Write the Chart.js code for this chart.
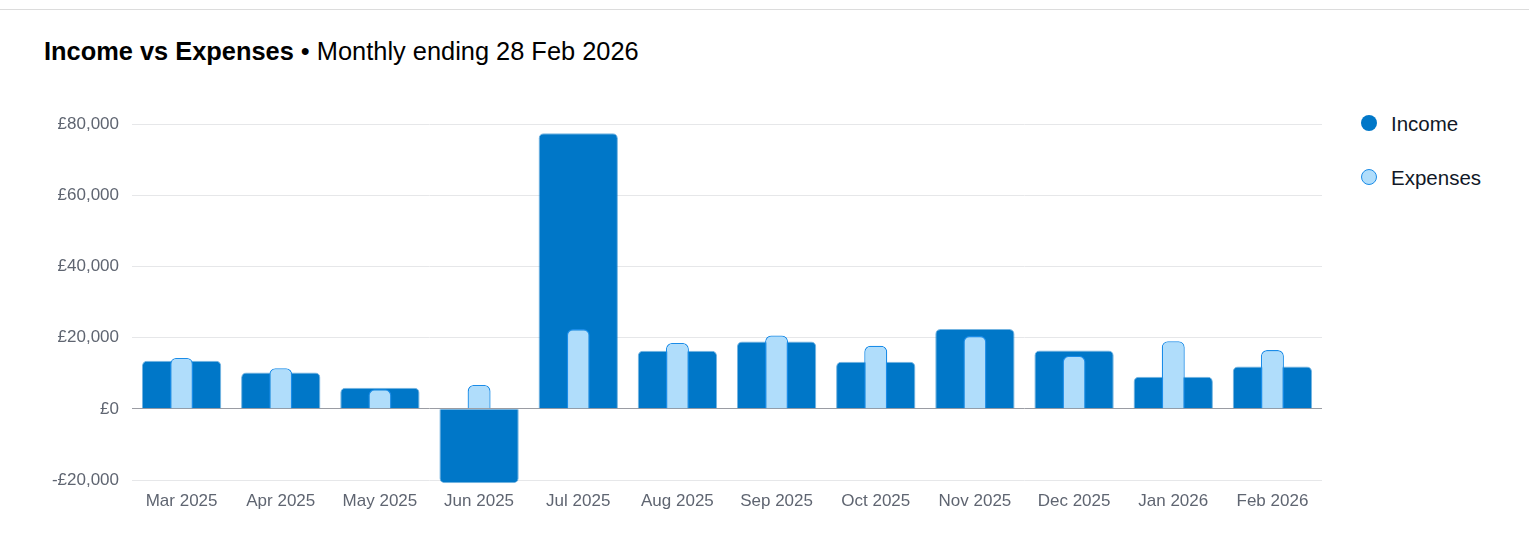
<!DOCTYPE html>
<html>
<head>
<meta charset="utf-8">
<script src="https://cdn.jsdelivr.net/npm/chart.js@4"></script>
<style>
  html, body { margin: 0; padding: 0; background: #fff; }
  body { width: 1529px; height: 557px; position: relative; overflow: hidden; font-family: "Liberation Sans", Arial, sans-serif; }
  .topline { position: absolute; left: 0; top: 9px; width: 1529px; height: 1px; background: #dcdcdc; }
  h2 { position: absolute; left: 44px; top: 37px; margin: 0; font-size: 25.4px; font-weight: normal; color: #000; white-space: nowrap; }
  h2 b { font-weight: bold; }
  #wrap { position: absolute; left: 0; top: 90px; width: 1330px; height: 431px; }
  #legend { position: absolute; left: 1361px; top: 110px; }
  #legend div { height: 27px; line-height: 27px; margin-bottom: 27px; font-size: 20.5px; color: #111827; position: relative; padding-left: 30px; }
  #legend span { position: absolute; left: 0; top: 5px; width: 16px; height: 16px; border-radius: 50%; box-sizing: border-box; }
</style>
</head>
<body>
<div class="topline"></div>
<h2><b>Income vs Expenses</b> • Monthly ending 28 Feb 2026</h2>
<div id="wrap"><canvas id="chart"></canvas></div>
<div id="legend"></div>
<script>
// data
var months = ['Mar 2025', 'Apr 2025', 'May 2025', 'Jun 2025', 'Jul 2025', 'Aug 2025',
              'Sep 2025', 'Oct 2025', 'Nov 2025', 'Dec 2025', 'Jan 2026', 'Feb 2026'];
var income = [13500, 10200, 5900, -20900, 77400, 16300, 18900, 13200, 22400, 16400, 9000, 11900];
var expenses = [14300, 11400, 5500, 6700, 22400, 18500, 20600, 17700, 20500, 14900, 19000, 16500];
var yTicks = [-20000, 0, 20000, 40000, 60000, 80000];

var incomeColor = '#0077c8';
var expenseFill = '#b0ddfb';
var expenseBorder = '#1a8ce8';

function money(v) {
    var s = '£' + Math.abs(v).toLocaleString('en-GB');
    return v < 0 ? '-' + s : s;
}

var ctx = document.getElementById('chart').getContext('2d');
var chart = new Chart(ctx, {
    type: 'bar',
    data: {
        labels: months,
        datasets: [{
            label: 'Income',
            data: income,
            backgroundColor: incomeColor,
            borderColor: 'rgba(0, 119, 200, 0.55)',
            borderWidth: 1,
            borderRadius: 5,
            borderSkipped: 'start',
            grouped: false,
            barPercentage: 1,
            categoryPercentage: 0.8,
            order: 2
        }, {
            label: 'Expenses',
            data: expenses,
            backgroundColor: expenseFill,
            borderColor: expenseBorder,
            borderWidth: 1.3,
            borderRadius: 6,
            borderSkipped: 'start',
            grouped: false,
            barPercentage: 0.29,
            categoryPercentage: 0.8,
            order: 1
        }]
    },
    options: {
        responsive: true,
        maintainAspectRatio: false,
        animation: false,
        layout: { padding: { top: 34, right: 8, bottom: 9, left: 0 } },
        plugins: {
            legend: { display: false },
            tooltip: { enabled: false }
        },
        scales: {
            x: {
                grid: { display: false },
                border: { display: false },
                ticks: { color: '#5f6571', font: { family: 'Liberation Sans', size: 17 }, padding: 0, maxRotation: 0 }
            },
            y: {
                min: -21000,
                max: 80000,
                afterBuildTicks: function(scale) {
                    scale.ticks = yTicks.map(v => ({ value: v }));
                },
                afterFit: function(scale) { scale.width = 132; },
                border: { display: false },
                grid: {
                    drawTicks: false,
                    lineWidth: 1,
                    color: function(c) { return c.tick && c.tick.value === 0 ? '#9a9ca3' : '#e6e7e9'; }
                },
                ticks: {
                    color: '#5f6571',
                    font: { family: 'Liberation Sans', size: 17 },
                    padding: 13,
                    callback: function(v) { return money(v); }
                }
            }
        }
    }
});

// legend built from the datasets
var legend = document.getElementById('legend');
chart.data.datasets.forEach(function(ds) {
    var row = document.createElement('div');
    var dot = document.createElement('span');
    dot.style.background = ds.backgroundColor;
    if (ds.label === 'Expenses') dot.style.border = '1.5px solid ' + expenseBorder;
    row.appendChild(dot);
    row.appendChild(document.createTextNode(ds.label));
    legend.appendChild(row);
});
</script>
</body>
</html>
